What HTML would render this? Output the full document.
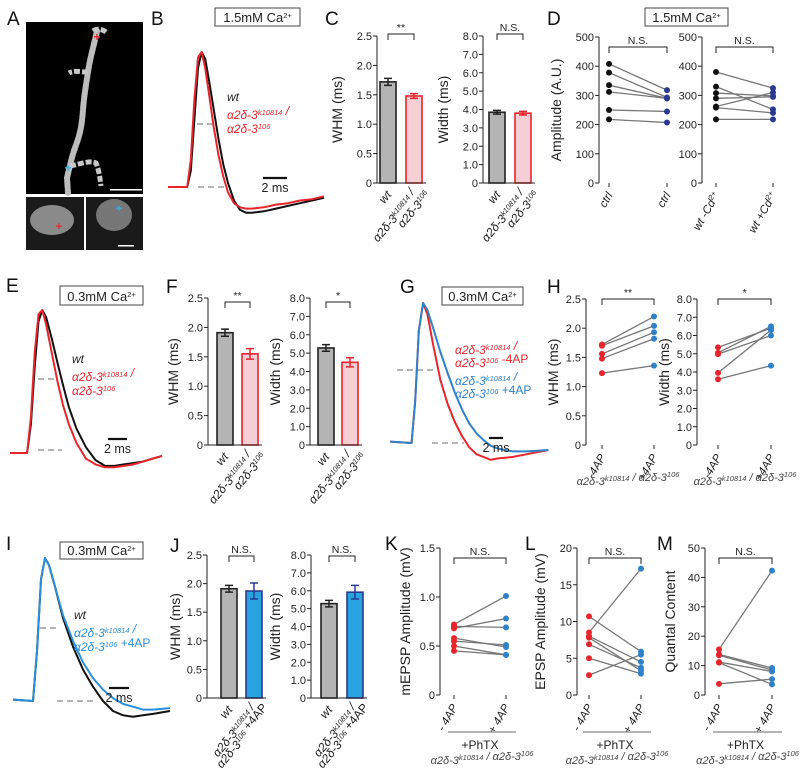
<!DOCTYPE html>
<html><head><meta charset="utf-8"><style>
html,body{margin:0;padding:0;background:#fff;}
svg{display:block;font-family:"Liberation Sans",Arial,sans-serif;}
</style></head><body>
<svg id="fig" width="800" height="783" viewBox="0 0 800 783">
  <g>
    <rect x="26" y="22" width="117" height="172" fill="#000"/>
    <path d="M97,31 C94,45 90,58 88,72 C86,85 84,96 83,110 C82,122 81,132 76,145 C72,156 70,165 67,178 L68,193" stroke="#bdbdbd" stroke-width="6" stroke-dasharray="7,2" fill="none" stroke-linecap="round"/>
    <path d="M88,72 C80,72 74,70 69,73 M70,166 C80,164 90,160 96,163 C99,170 100,178 101,186 M93,31 C97,28 103,29 107,33" stroke="#c8c8c8" stroke-width="5" stroke-dasharray="6,2" fill="none"/>
    <text x="97" y="41" fill="#e8242c" font-size="12" text-anchor="middle" font-weight="bold">+</text>
    <text x="68" y="172" fill="#3ab0e8" font-size="12" text-anchor="middle" font-weight="bold">+</text>
    <rect x="110" y="189" width="32" height="1.5" fill="#fff"/>
    <rect x="26" y="197" width="58" height="53" fill="#1a1a1a"/>
    <ellipse cx="52" cy="220" rx="22" ry="15" fill="#8a8a8a"/>
    <text x="59" y="230" fill="#e8242c" font-size="11" text-anchor="middle" font-weight="bold">+</text>
    <rect x="86" y="197" width="57" height="53" fill="#1a1a1a"/>
    <ellipse cx="114" cy="215" rx="18" ry="16" fill="#777"/>
    <text x="119" y="212" fill="#3ab0e8" font-size="11" text-anchor="middle" font-weight="bold">+</text>
    <rect x="118" y="245" width="16" height="1.5" fill="#fff"/>
  </g>
</svg>
<script>
// ---------- data ----------
const barCats = ["wt", "mutant"];
const whmTicks = [0, 0.5, 1.0, 1.5, 2.0, 2.5];
const whmTickLabels = ["0", "0.5", "1.0", "1.5", "2.0", "2.5"];
const widthTicks = [0, 1, 2, 3, 4, 5, 6, 7, 8];
const widthTickLabels = ["0", "1.0", "2.0", "3.0", "4.0", "5.0", "6.0", "7.0", "8.0"];
const cWhmVals = [1.72, 1.48];
const cWhmErr = [0.06, 0.04];
const cWidthVals = [3.85, 3.80];
const cWidthErr = [0.10, 0.10];
const fWhmVals = [1.91, 1.55];
const fWhmErr = [0.06, 0.09];
const fWidthVals = [5.28, 4.50];
const fWidthErr = [0.18, 0.25];
const jWhmVals = [1.91, 1.87];
const jWhmErr = [0.06, 0.14];
const jWidthVals = [5.28, 5.92];
const jWidthErr = [0.18, 0.38];
const ampTicks = [0, 100, 200, 300, 400, 500];
const ampTickLabels = ["0", "100", "200", "300", "400", "500"];
const dLeftBefore = [408, 378, 335, 312, 250, 218];
const dLeftAfter = [318, 293, 290, 290, 245, 207];
const dRightBefore = [380, 330, 308, 290, 262, 258, 218];
const dRightAfter = [325, 252, 298, 295, 310, 240, 218];
const hWhmBefore = [1.72, 1.70, 1.56, 1.48, 1.23];
const hWhmAfter = [2.20, 2.04, 1.93, 1.82, 1.36];
const hWidthBefore = [5.35, 5.05, 4.98, 3.95, 3.60];
const hWidthAfter = [6.40, 6.50, 6.00, 6.30, 4.35];
const kTicks = [0, 0.5, 1.0, 1.5];
const kTickLabels = ["0", "0.5", "1.0", "1.5"];
const kBefore = [0.72, 0.70, 0.68, 0.58, 0.55, 0.50, 0.45];
const kAfter = [1.01, 0.69, 0.78, 0.49, 0.51, 0.41, 0.41];
const lTicks = [0, 5, 10, 15, 20];
const lTickLabels = ["0", "5", "10", "15", "20"];
const lBefore = [10.7, 8.5, 8.0, 7.8, 6.9, 5.0, 2.7];
const lAfter = [5.9, 17.2, 4.5, 3.3, 3.7, 2.9, 5.5];
const mTicks = [0, 10, 20, 30, 40, 50];
const mTickLabels = ["0", "10", "20", "30", "40", "50"];
const mBefore = [15.5, 13.8, 13.5, 11.2, 11.0, 3.8];
const mAfter = [42.3, 9.2, 8.5, 8.0, 3.6, 5.4];
// traces: time (ms) and normalized amplitude
const bTime = [0,1.6,1.9,2.2,2.5,2.8,3.1,3.4,3.8,4.2,4.6,5,5.5,6,6.5,7,8,9,10,11,12,13];
const bWt = [0,0,0.12,0.5,0.88,1,0.95,0.8,0.58,0.36,0.17,0.03,-0.1,-0.17,-0.19,-0.19,-0.18,-0.16,-0.14,-0.12,-0.1,-0.08];
const bMut = [0,0,0.2,0.65,0.96,1,0.88,0.7,0.45,0.24,0.08,-0.04,-0.12,-0.15,-0.16,-0.16,-0.15,-0.13,-0.12,-0.1,-0.09,-0.07];
const eTime = [0,1.8,2.2,2.6,3,3.4,3.8,4.4,5,5.6,6.2,7,8,9,10,11,12,13,14,15,16];
const eWt = [0,0,0.2,0.6,0.92,1,0.95,0.8,0.63,0.47,0.32,0.17,0.04,-0.05,-0.09,-0.09,-0.08,-0.07,-0.06,-0.04,-0.02];
const eMut = [0,0,0.25,0.7,0.97,1,0.9,0.7,0.5,0.33,0.2,0.07,-0.04,-0.08,-0.1,-0.1,-0.09,-0.08,-0.06,-0.04,-0.02];
const gTime = [0,3,3.5,4,4.6,5.2,6,7,8,9,10,11,12,13,14,15,17,19,22];
const gMinus = [0.01,0,0.3,0.8,1,0.92,0.7,0.45,0.28,0.15,0.05,-0.03,-0.08,-0.1,-0.12,-0.11,-0.1,-0.08,-0.05];
const gPlus = [0.01,0,0.3,0.8,1,0.95,0.82,0.65,0.5,0.36,0.24,0.14,0.07,0.02,-0.02,-0.04,-0.06,-0.06,-0.05];
const iTime = [0,2,2.4,2.8,3.2,3.6,4.2,5,6,7,8,9,10,11,12,13,14,15.7];
const iWt = [0.01,0,0.35,0.85,1,0.95,0.8,0.58,0.38,0.22,0.1,0,-0.07,-0.1,-0.11,-0.1,-0.09,-0.07];
const iPlus = [0.01,0,0.35,0.85,1,0.95,0.8,0.6,0.42,0.27,0.16,0.08,0.02,-0.02,-0.04,-0.06,-0.06,-0.05];

// ---------- helpers ----------
const NS = 'http://www.w3.org/2000/svg';
const svg = document.getElementById('fig');
const RED = '#e8242c', DBLUE = '#2b3a8f', LBLUE = '#2f82c8';
function mk(tag, attrs, name, parent) {
  const e = document.createElementNS(NS, tag);
  for (const k in attrs) e.setAttribute(k, attrs[k]);
  
  
  (parent || svg).appendChild(e);
  return e;
}
function txt(x, y, html, name, size, anchor, extra, parent) {
  const a = Object.assign({x: x, y: y, 'font-size': size || 11, 'text-anchor': anchor || 'start', fill: '#222'}, extra || {});
  const t = mk('text', a, name, parent);
  t.innerHTML = html;
  return t;
}
function sup(s) { return '<tspan dy="-4" font-size="7.5">' + s + '</tspan><tspan dy="4"></tspan>'; }
const geno1 = 'α2δ-3' + sup('k10814') + ' /';
const geno2 = 'α2δ-3' + sup('106');
const genoFull = 'α2δ-3' + sup('k10814') + ' / α2δ-3' + sup('106');
function scaleY(y0, yTop, max) { return v => y0 - v / max * (y0 - yTop); }
function yAxis(g, ax, y0, yTop, max, ticks, labels, title, titleX) {
  const sy = scaleY(y0, yTop, max);
  mk('line', {x1: ax, y1: y0, x2: ax, y2: yTop, stroke: '#222', 'stroke-width': 1}, 'y-axis-line', g);
  ticks.forEach((t, i) => {
    mk('line', {x1: ax - 4, y1: sy(t), x2: ax, y2: sy(t), stroke: '#222'}, 'y-tick', g);
    txt(ax - 5, sy(t) + 4, labels[i], 'y-tick-label', 11, 'end', null, g);
  });
  txt(0, 0, title, 'y-axis-title', 14, 'middle', {transform: 'translate(' + titleX + ',' + (y0 + yTop) / 2 + ') rotate(-90)'}, g);
  return sy;
}
function bracket(g, x1, x2, y, label) {
  mk('path', {d: 'M' + x1 + ',' + (y + 6) + 'V' + y + 'H' + x2 + 'V' + (y + 6), stroke: '#222', fill: 'none'}, 'significance-bracket', g);
  txt((x1 + x2) / 2, y - 3, label, 'significance-label', 10.5, 'middle', null, g);
}
function rotLabel(g, x, y, lines, name, color, size, ang) {
  const t = mk('text', {x: 0, y: 0, 'font-size': size || 12, 'text-anchor': 'end', fill: color || '#222', 'font-style': 'italic', transform: 'translate(' + x + ',' + y + ') rotate(' + (ang || -50) + ')'}, name, g);
  t.innerHTML = lines.map((l, i) => '<tspan x="' + (i * 8) + '" dy="' + (i ? 14 : 0) + '">' + l + '</tspan>').join('');
}
function barChart(name, ax, y0, yTop, max, ticks, labels, title, titleX, centers, vals, errs, fills, strokes, brk, catLabels) {
  const g = mk('g', {}, name);
  const sy = yAxis(g, ax, y0, yTop, max, ticks, labels, title, titleX);
  const w = 16;
  vals.forEach((v, i) => {
    mk('rect', {x: centers[i] - w / 2, y: sy(v), width: w, height: y0 - sy(v), fill: fills[i], stroke: strokes[i], 'stroke-width': 1.6}, 'bar-' + barCats[i], g);
    const e1 = sy(v + errs[i]), e2 = sy(v - errs[i]);
    mk('path', {d: 'M' + (centers[i] - 4) + ',' + e1 + 'H' + (centers[i] + 4) + 'M' + centers[i] + ',' + e1 + 'V' + e2 + 'M' + (centers[i] - 4) + ',' + e2 + 'H' + (centers[i] + 4), stroke: strokes[i], 'stroke-width': 1.5, fill: 'none'}, 'error-bar-' + barCats[i], g);
  });
  mk('line', {x1: ax, y1: y0, x2: centers[1] + 12, y2: y0, stroke: '#222'}, 'x-axis-line', g);
  bracket(g, centers[0], centers[1], brk[0], brk[1]);
  rotLabel(g, centers[0] + 4, y0 + 12, ['wt'], 'x-label-wt');
  rotLabel(g, centers[1] + 4, y0 + 12, catLabels, 'x-label-mutant');
}
function pairChart(name, ax, y0, yTop, max, ticks, labels, title, titleX, px, before, after, cb, ca, brkY, brkText, xlabs) {
  const g = mk('g', {}, name);
  const sy = yAxis(g, ax, y0, yTop, max, ticks, labels, title, titleX);
  px.forEach((x, i) => {
    mk('line', {x1: x, y1: y0, x2: x, y2: y0 + 4, stroke: '#222'}, 'x-tick', g);
    rotLabel(g, x + 4, y0 + 12, [xlabs[i]], 'x-label', '#222', 11.5, -60);
  });
  before.forEach((v, i) => {
    mk('line', {x1: px[0], y1: sy(v), x2: px[1], y2: sy(after[i]), stroke: '#777', 'stroke-width': 1.3}, 'pair-line', g);
  });
  before.forEach(v => { mk('circle', {cx: px[0], cy: sy(v), r: 3, fill: cb}, 'point-before', g); });
  after.forEach(v => { mk('circle', {cx: px[1], cy: sy(v), r: 3, fill: ca}, 'point-after', g); });
  bracket(g, px[0], px[1], brkY, brkText);
  return g;
}
function trace(g, times, vals, x0, ppm, yb, amp, color, name) {
  const d = times.map((t, i) => (i ? 'L' : 'M') + (x0 + t * ppm).toFixed(1) + ',' + (yb - vals[i] * amp).toFixed(1)).join('');
  mk('path', {d: d, stroke: color, 'stroke-width': 2, fill: 'none', 'stroke-linejoin': 'round'}, name, g);
}
function dash(g, x1, x2, y) { mk('line', {x1: x1, y1: y, x2: x2, y2: y, stroke: '#888', 'stroke-width': 1.3, 'stroke-dasharray': '6,4'}, 'dashed-reference', g); }
function box(x, y, w, h, label) {
  const g = mk('g', {}, 'condition-box');
  mk('rect', {x: x, y: y, width: w, height: h, fill: '#fff', stroke: '#444', 'stroke-width': 1}, 'box-outline', g);
  txt(x + w / 2, y + h - 4, label, 'box-label', 13, 'middle', null, g);
}
function scaleBar(g, x1, x2, y) {
  mk('line', {x1: x1, y1: y, x2: x2, y2: y, stroke: '#111', 'stroke-width': 2.2}, 'scale-bar', g);
  txt((x1 + x2) / 2, y + 14, '2 ms', 'scale-bar-label', 12.5, 'middle', null, g);
}
const ca = 'Ca' + sup('2+');

// ---------- panel labels ----------
[['A',7,25],['B',151,25],['C',325,25],['D',547,25],['E',6,292],['F',166,293],['G',400,293],['H',547,293],['I',6,550],['J',170,552],['K',385,550],['L',525,550],['M',657,550]].forEach(p => {
  txt(p[1], p[2], p[0], 'panel-label-' + p[0].toLowerCase(), 19, 'start', {fill: '#111'});
});

// ---------- B ----------
box(215, 8, 85, 18, '1.5mM ' + ca);
const gB = mk('g', {}, 'panel-b-traces');
dash(gB, 197, 214, 124); dash(gB, 198, 228, 187);
trace(gB, bTime, bWt, 168, 12, 187, 135, '#111', 'trace-wt');
trace(gB, bTime, bMut, 168, 12, 187, 135, RED, 'trace-mutant');
scaleBar(gB, 263, 287, 178);
txt(227, 101, 'wt', 'legend-wt', 12, 'start', {'font-style': 'italic'}, gB);
txt(227, 119, geno1, 'legend-mutant', 12, 'start', {'font-style': 'italic', fill: RED}, gB);
txt(227, 133, geno2, 'legend-mutant-2', 12, 'start', {'font-style': 'italic', fill: RED}, gB);

// ---------- C ----------
barChart('panel-c-whm', 377, 183, 36, 2.5, whmTicks, whmTickLabels, 'WHM (ms)', 342, [388, 414], cWhmVals, cWhmErr, ['#b4b4b4', '#f5cfd3'], ['#222', RED], [34, '**'], [geno1, geno2]);
barChart('panel-c-width', 483, 183, 36, 8, widthTicks, widthTickLabels, 'Width (ms)', 448, [497, 523], cWidthVals, cWidthErr, ['#b4b4b4', '#f5cfd3'], ['#222', RED], [34, 'N.S.'], [geno1, geno2]);

// ---------- D ----------
box(645, 8, 83, 18, '1.5mM ' + ca);
pairChart('panel-d-left', 599, 183, 37, 500, ampTicks, ampTickLabels, 'Amplitude (A.U.)', 561, [609, 667], dLeftBefore, dLeftAfter, '#111', DBLUE, 47, 'N.S.', ['ctrl', 'ctrl']);
pairChart('panel-d-right', 702, 183, 37, 500, ampTicks, ampTickLabels, '', 690, [716, 773], dRightBefore, dRightAfter, '#111', DBLUE, 47, 'N.S.', ['wt -Cd' + sup('2+'), 'wt +Cd' + sup('2+')]);

// ---------- E ----------
box(60, 286, 83, 19, '0.3mM ' + ca);
const gE = mk('g', {}, 'panel-e-traces');
dash(gE, 38, 55, 379); dash(gE, 38, 62, 450);
trace(gE, eTime, eWt, 10, 9.5, 453, 143, '#111', 'trace-wt');
trace(gE, eTime, eMut, 10, 9.5, 453, 143, RED, 'trace-mutant');
scaleBar(gE, 108, 127, 439);
txt(72, 363, 'wt', 'legend-wt', 12, 'start', {'font-style': 'italic'}, gE);
txt(72, 381, geno1, 'legend-mutant', 12, 'start', {'font-style': 'italic', fill: RED}, gE);
txt(72, 395, geno2, 'legend-mutant-2', 12, 'start', {'font-style': 'italic', fill: RED}, gE);

// ---------- F ----------
barChart('panel-f-whm', 208, 445, 298, 2.5, whmTicks, whmTickLabels, 'WHM (ms)', 178, [225, 250], fWhmVals, fWhmErr, ['#b4b4b4', '#f5cfd3'], ['#222', RED], [302, '**'], [geno1, geno2]);
barChart('panel-f-width', 310, 445, 298, 8, widthTicks, widthTickLabels, 'Width (ms)', 280, [326, 350], fWidthVals, fWidthErr, ['#b4b4b4', '#f5cfd3'], ['#222', RED], [302, '*'], [geno1, geno2]);

// ---------- G ----------
box(442, 287, 81, 18, '0.3mM ' + ca);
const gG = mk('g', {}, 'panel-g-traces');
dash(gG, 397, 434, 370); dash(gG, 432, 464, 443);
trace(gG, gTime, gMinus, 390, 7.2, 443, 140, RED, 'trace-minus-4ap');
trace(gG, gTime, gPlus, 390, 7.2, 443, 140, LBLUE, 'trace-plus-4ap');
scaleBar(gG, 489, 503, 438);
txt(455, 354, geno1, 'legend-minus-4ap', 12, 'start', {'font-style': 'italic', fill: RED}, gG);
txt(455, 367, geno2 + '<tspan font-style="normal"> -4AP</tspan>', 'legend-minus-4ap-2', 12, 'start', {'font-style': 'italic', fill: RED}, gG);
txt(455, 385, geno1, 'legend-plus-4ap', 12, 'start', {'font-style': 'italic', fill: LBLUE}, gG);
txt(455, 398, geno2 + '<tspan font-style="normal"> +4AP</tspan>', 'legend-plus-4ap-2', 12, 'start', {'font-style': 'italic', fill: LBLUE}, gG);

// ---------- H ----------
pairChart('panel-h-whm', 586, 445, 299, 2.5, whmTicks, whmTickLabels, 'WHM (ms)', 558, [602, 654], hWhmBefore, hWhmAfter, RED, LBLUE, 299, '**', ['-4AP', '+4AP']);
pairChart('panel-h-width', 697, 445, 299, 8, widthTicks, widthTickLabels, 'Width (ms)', 669, [718, 771], hWidthBefore, hWidthAfter, RED, LBLUE, 299, '*', ['-4AP', '+4AP']);
txt(628, 485, genoFull, 'genotype-label', 11, 'middle', {'font-style': 'italic', fill: '#444'});
txt(745, 485, genoFull, 'genotype-label', 11, 'middle', {'font-style': 'italic', fill: '#444'});

// ---------- I ----------
box(60, 542, 83, 17, '0.3mM ' + ca);
const gI = mk('g', {}, 'panel-i-traces');
dash(gI, 40, 58, 628); dash(gI, 57, 97, 701);
trace(gI, iTime, iWt, 13, 10, 701, 143, '#111', 'trace-wt');
trace(gI, iTime, iPlus, 13, 10, 701, 143, '#2a8fd8', 'trace-plus-4ap');
scaleBar(gI, 109, 129, 688);
txt(74, 619, 'wt', 'legend-wt', 12, 'start', {'font-style': 'italic'}, gI);
txt(74, 637, geno1, 'legend-plus-4ap', 12, 'start', {'font-style': 'italic', fill: '#2a8fd8'}, gI);
txt(74, 651, geno2 + '<tspan font-style="normal"> +4AP</tspan>', 'legend-plus-4ap-2', 12, 'start', {'font-style': 'italic', fill: '#2a8fd8'}, gI);

// ---------- J ----------
barChart('panel-j-whm', 207, 698, 555, 2.5, whmTicks, whmTickLabels, 'WHM (ms)', 180, [229, 254], jWhmVals, jWhmErr, ['#b4b4b4', '#29a3e0'], ['#222', DBLUE], [556, 'N.S.'], [geno1, geno2 + '<tspan font-style="normal"> +4AP</tspan>']);
barChart('panel-j-width', 311, 698, 555, 8, widthTicks, widthTickLabels, 'Width (ms)', 280, [329, 355], jWidthVals, jWidthErr, ['#b4b4b4', '#29a3e0'], ['#222', DBLUE], [556, 'N.S.'], [geno1, geno2 + '<tspan font-style="normal"> +4AP</tspan>']);

// ---------- K L M ----------
pairChart('panel-k', 440, 695, 548, 1.5, kTicks, kTickLabels, 'mEPSP Amplitude (mV)', 410, [454, 506], kBefore, kAfter, RED, LBLUE, 558, 'N.S.', ['- 4AP', '+ 4AP']);
pairChart('panel-l', 577, 695, 548, 20, lTicks, lTickLabels, 'EPSP Amplitude (mV)', 545, [589, 641], lBefore, lAfter, RED, LBLUE, 558, 'N.S.', ['- 4AP', '+ 4AP']);
pairChart('panel-m', 705, 695, 548, 50, mTicks, mTickLabels, 'Quantal Content', 675, [719, 772], mBefore, mAfter, RED, LBLUE, 558, 'N.S.', ['- 4AP', '+ 4AP']);
[[454, 506], [589, 641], [719, 772]].forEach(p => {
  mk('line', {x1: p[0] - 6, y1: 732, x2: p[1] + 10, y2: 732, stroke: '#888', 'stroke-width': 1.2}, 'treatment-line');
  txt((p[0] + p[1]) / 2, 749, '+PhTX', 'treatment-label', 12, 'middle');
  txt((p[0] + p[1]) / 2 + 2, 764, genoFull, 'genotype-label', 11, 'middle', {'font-style': 'italic', fill: '#444'});
});
</script>
</body></html>
